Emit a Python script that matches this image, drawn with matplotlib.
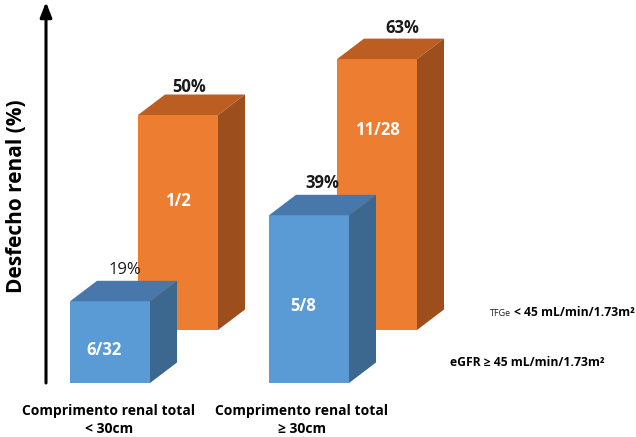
import matplotlib
matplotlib.use("Agg")
import matplotlib.pyplot as plt
from matplotlib.patches import Polygon

categories = ["Comprimento renal total\n< 30cm", "Comprimento renal total\n≥ 30cm"]
series_names = ["eGFR ≥ 45 mL/min/1.73m²", "TFGe < 45 mL/min/1.73m²"]
blue_values = [19, 39]          # eGFR >= 45
orange_values = [50, 63]        # TFGe < 45
blue_counts = ["6/32", "5/8"]
orange_counts = ["1/2", "11/28"]

W, H = 636, 437
fig = plt.figure(figsize=(W / 100, H / 100), dpi=100)
ax = fig.add_axes([0, 0, 1, 1])
# pixel mapping: x px = 110 + 199*x ; y px = 383 - 4.3*y
ax.set_xlim(-110 / 199, (W - 110) / 199)
ax.set_ylim(-(H - 383) / 4.3, 383 / 4.3)
ax.axis("off")

FONT = "Open Sans"
bw = 80 / 199            # bar width
ddx = 27 / 199           # depth x
ddy = 20.5 / 4.3         # depth y
row_dx = 68 / 199        # back row offset x
row_dy = 53 / 4.3        # back row offset y

def bar3d(xc, base, val, front, top, side):
    x0, x1 = xc - bw / 2, xc + bw / 2
    y0, y1 = base, base + val
    ax.add_patch(Polygon([(x0, y0), (x1, y0), (x1, y1), (x0, y1)], closed=True,
                         facecolor=front, edgecolor="none"))
    ax.add_patch(Polygon([(x0, y1), (x1, y1), (x1 + ddx, y1 + ddy), (x0 + ddx, y1 + ddy)],
                         closed=True, facecolor=top, edgecolor="none"))
    ax.add_patch(Polygon([(x1, y0), (x1 + ddx, y0 + ddy), (x1 + ddx, y1 + ddy), (x1, y1)],
                         closed=True, facecolor=side, edgecolor="none"))

orange_lab_frac = [0.60, 0.74]
orange_pct_dx = [-0.01, 0.06]
orange_pct_dy = [-1.6, -0.8]
# back row (orange)
for i, v in enumerate(orange_values):
    xc = i + row_dx
    bar3d(xc, row_dy, v, "#ED7D31", "#BC5E22", "#9C4F1C")
    ax.text(xc + ddx / 2 + orange_pct_dx[i], row_dy + v + ddy + 1.2 + orange_pct_dy[i],
            f"{v}%", ha="center", va="bottom",
            fontsize=12, fontweight="bold", family=FONT, color="#1a1a1a")
    ax.text(xc, row_dy + v * orange_lab_frac[i], orange_counts[i], ha="center",
            va="center", fontsize=12, fontweight="bold", family=FONT, color="white")

blue_lab_frac = [0.41, 0.46]
# front row (blue)
for i, v in enumerate(blue_values):
    xc = i
    bar3d(xc, 0, v, "#5B9BD5", "#4878AB", "#3C678F")
    ax.text(xc + ddx / 2 + (0.005 if i == 0 else 0.0), v + ddy + 0.6, f"{v}%",
            ha="center", va="bottom",
            fontsize=12, fontweight="bold" if i == 1 else "normal", family=FONT,
            color="#1a1a1a")
    ax.text(xc - 0.03, v * blue_lab_frac[i], blue_counts[i], ha="center",
            va="center", fontsize=12, fontweight="bold", family=FONT, color="white")

# y axis arrow
ax_x = (46 - 110) / 199
ax.annotate("", xy=(ax_x, (383 - 2) / 4.3), xytext=(ax_x, 0),
            arrowprops=dict(arrowstyle="-|>,head_length=0.9,head_width=0.35",
                            lw=2.2, color="black", shrinkA=0, shrinkB=0))
ax.text((17 - 110) / 199, (383 - 196) / 4.3, "Desfecho renal (%)", rotation=90,
        ha="center", va="center", fontsize=15, fontweight="bold", family=FONT)

# category labels
cat_px = [109, 302]
for i, c in enumerate(categories):
    ax.text((cat_px[i] - 110) / 199, (383 - 420) / 4.3, c, ha="center", va="center",
            fontsize=10, fontweight="bold", family=FONT, linespacing=1.45)

# legend-like labels
ax.text((490 - 110) / 199, (383 - 316) / 4.3, "TFGe", ha="left", va="baseline",
        fontsize=6.5, family=FONT, color="#222222")
ax.text((514 - 110) / 199, (383 - 316) / 4.3, "< 45 mL/min/1.73m²", ha="left",
        va="baseline", fontsize=8.7, fontweight="bold", family=FONT)
ax.text((450 - 110) / 199, (383 - 362) / 4.3, series_names[0], ha="left",
        va="center", fontsize=8.7, fontweight="bold", family=FONT)

fig.savefig("out.png", dpi=100)
